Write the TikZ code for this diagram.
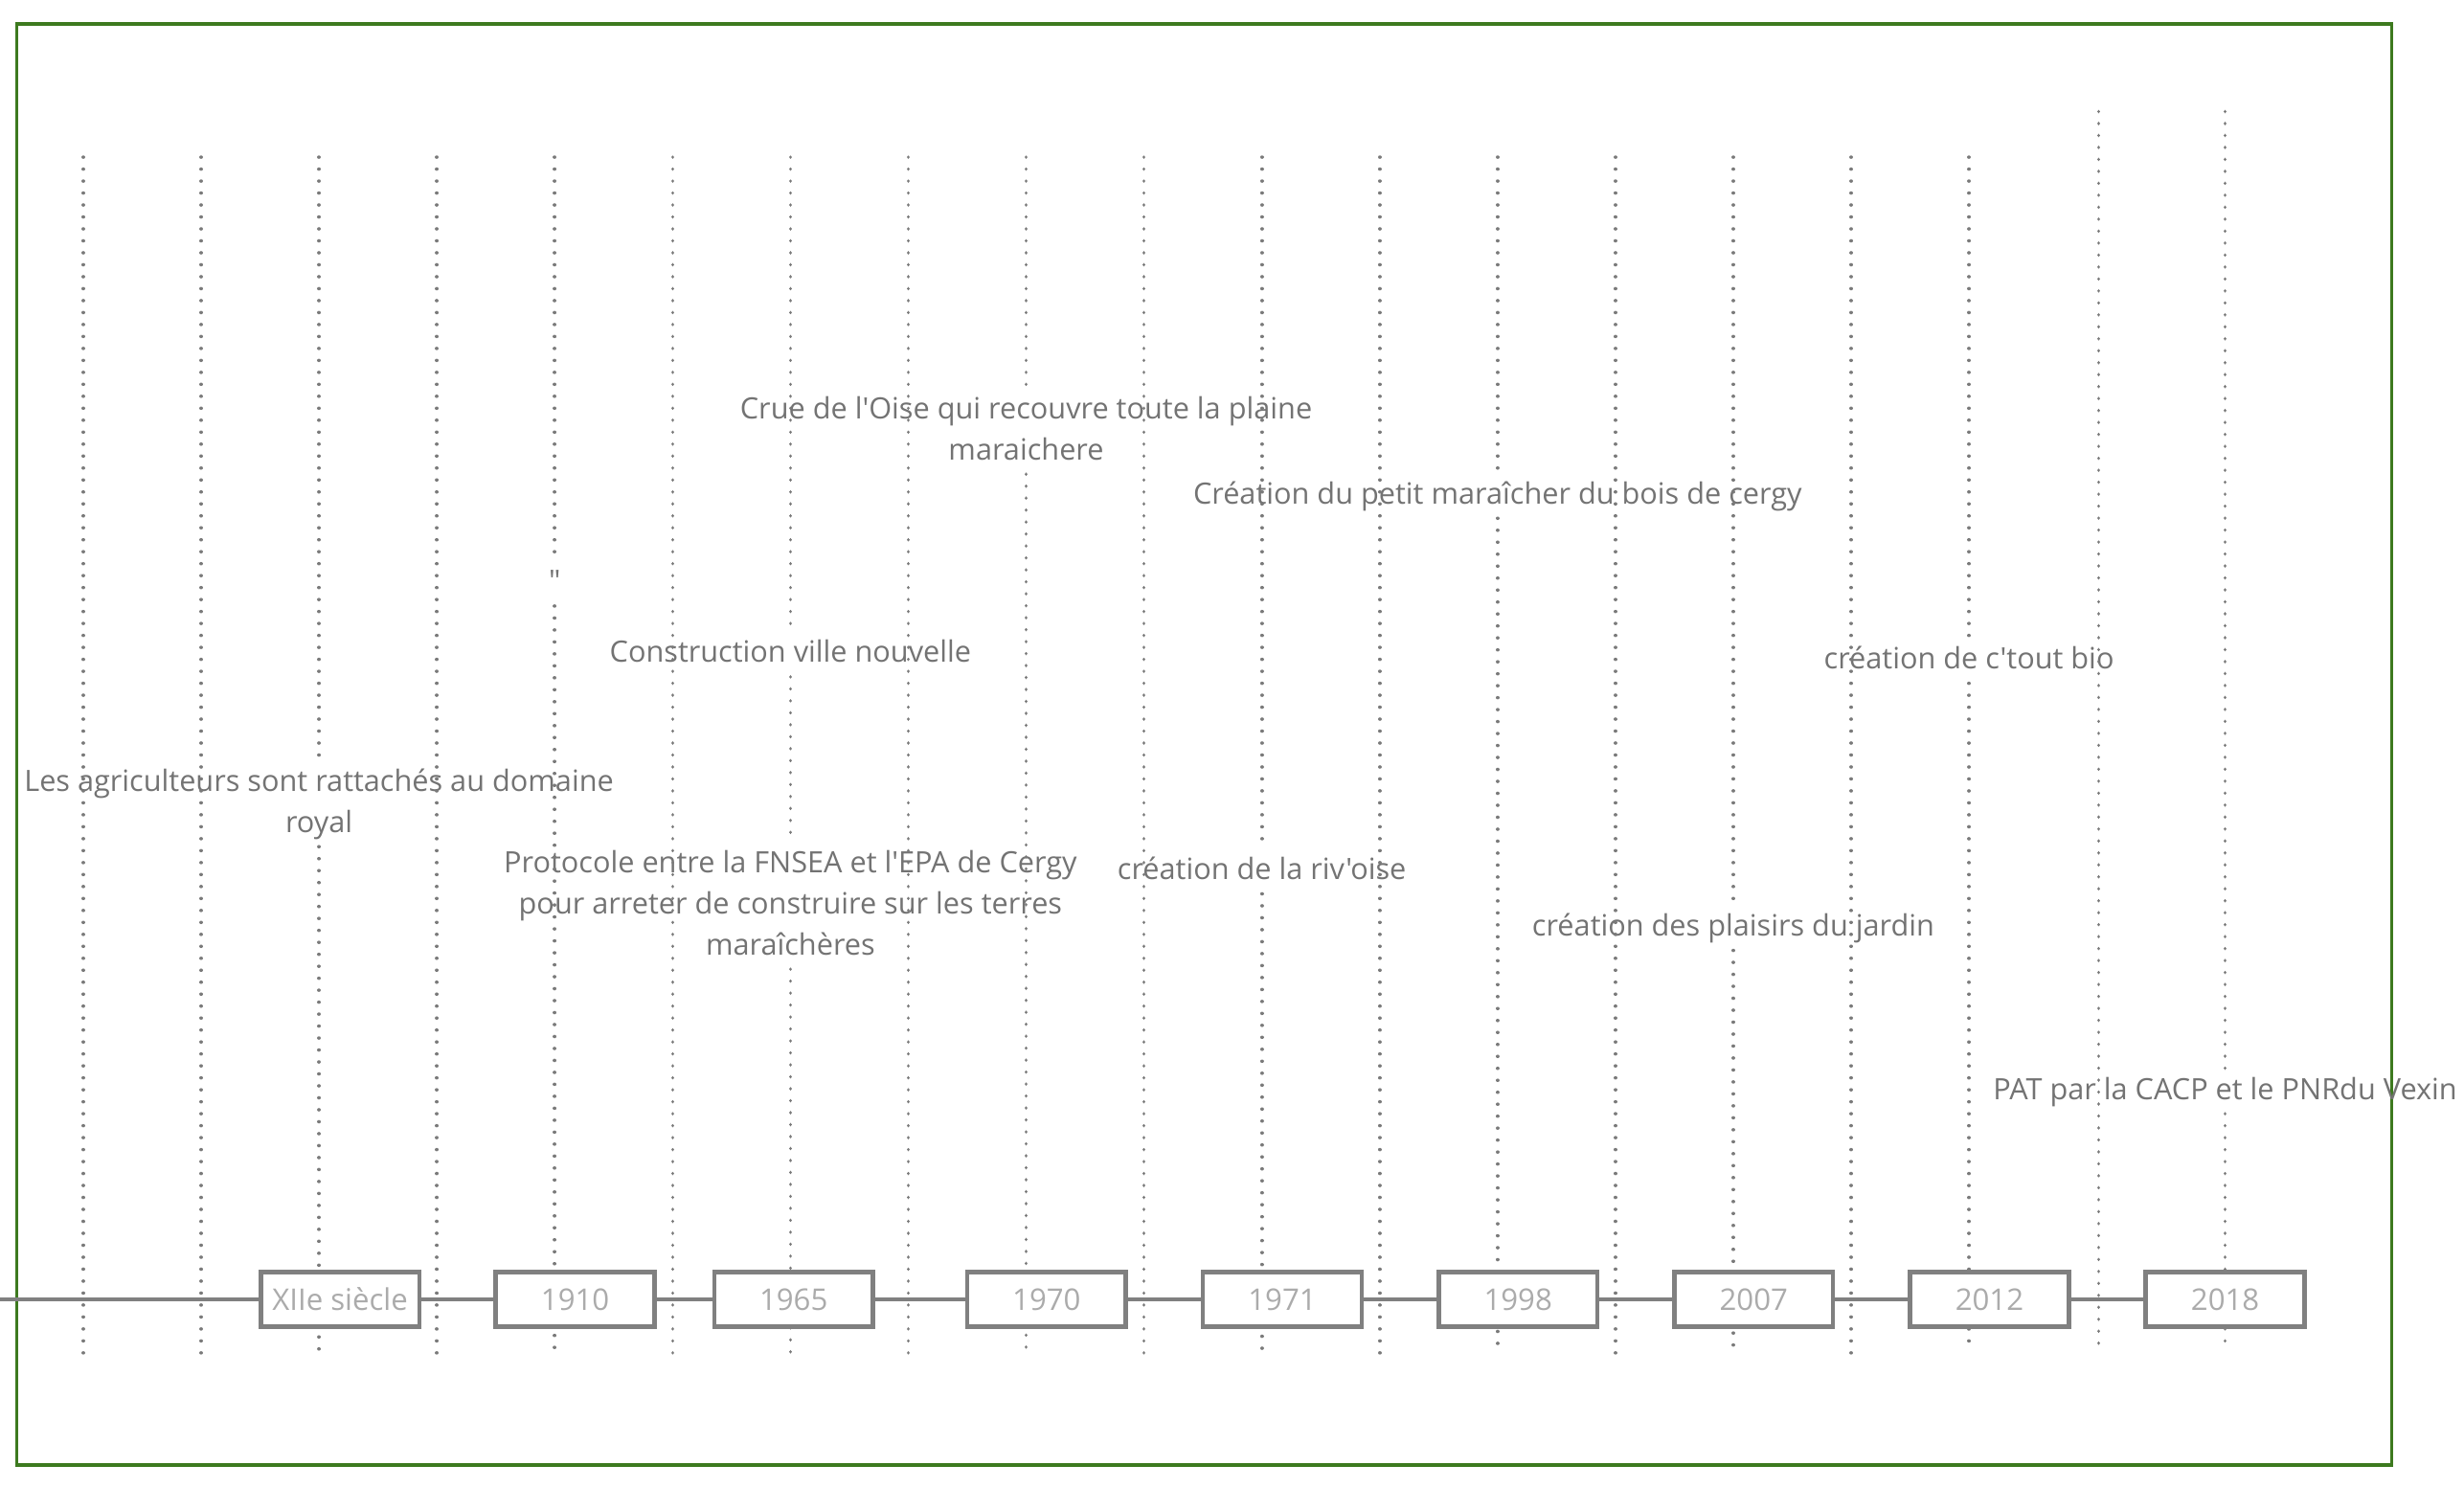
\documentclass[tikz,border=0pt]{standalone}
\usepackage{fontspec}
\setmainfont{Open Sans}[Ligatures=TeXOff]
\definecolor{framegreen}{HTML}{3D7A1F}
\definecolor{labgray}{HTML}{737373}
\definecolor{yeargray}{HTML}{ABABAB}
\definecolor{boxgray}{HTML}{808080}
\definecolor{dotgray}{HTML}{7A7A7A}
\newcommand\labstrut{\rule[-5pt]{0pt}{19pt}}
\newcommand\labfont{\fontsize{18.7pt}{26pt}\selectfont}
\newcommand\yearfont{\fontsize{19pt}{23pt}\selectfont}
\begin{document}
\begin{tikzpicture}[x=1pt,y=-1pt,
  lab/.style={font=\labfont, text=labgray, align=center, inner xsep=0pt, inner ysep=4pt},
  dotline/.style={draw=dotgray, line width=2.2pt, line cap=round, dash pattern=on 0.01pt off 7.6pt},
  yearbox/.style={draw=boxgray, line width=2.8pt, fill=white, text=yeargray, font=\yearfont,
    minimum width=101pt, minimum height=35pt, inner sep=0pt},
  timeline/.style={draw=boxgray, line width=2.8pt},
  framebox/.style={draw=framegreen, line width=2pt}]
\useasboundingbox (0,0) rectangle (1568,947);
% frame
\draw[framebox] (10.5,15.2) rectangle (1521.8,932.3);
% labels
\node[lab] (l1) at (203,512) {\labstrut Les agriculteurs sont rattachés au domaine\\\labstrut royal};
\node[lab] (l2) at (353,372) {\labstrut "};
\node[lab] (l3) at (503,417) {\labstrut Construction ville nouvelle};
\node[lab] (l4) at (503,577) {\labstrut Protocole entre la FNSEA et l'EPA de Cergy\\\labstrut pour arreter de construire sur les terres\\\labstrut maraîchères};
\node[lab] (l5) at (653,275) {\labstrut Crue de l'Oise qui recouvre toute la plaine\\\labstrut maraichere};
\node[lab] (l6) at (953,316) {\labstrut Création du petit maraîcher du bois de cergy};
\node[lab] (l7) at (803,555) {\labstrut création de la riv'oise};
\node[lab] (l8) at (1103,591) {\labstrut création des plaisirs du jardin};
\node[lab] (l9) at (1253,421) {\labstrut création de c'tout bio};
\node[lab] (l10) at (1416,695) {\labstrut PAT par la CACP et le PNRdu Vexin};
% column end points
\foreach \k in {0,...,16}{
  \pgfmathsetmacro\cx{53+75*\k}
  \coordinate (t\k) at (\cx,100);
  \coordinate (b\k) at (\cx,861);
}
\coordinate (t17) at (1335.5,71); \coordinate (b17) at (1335.5,861);
\coordinate (t18) at (1416,71);   \coordinate (b18) at (1416,861);
% dotted lines
\foreach \k in {0,1,3,5,7,9,11,13,15,17}{\draw[dotline] (t\k) -- (b\k);}
\draw[dotline] (t2) -- (l1.north); \draw[dotline] (l1.south) -- (b2);
\draw[dotline] (t4) -- (l2.north); \draw[dotline] (l2.south) -- (b4);
\draw[dotline] (t6) -- (l3.north); \draw[dotline] (l3.south) -- (l4.north); \draw[dotline] (l4.south) -- (b6);
\draw[dotline] (t8) -- (l5.north); \draw[dotline] (l5.south) -- (b8);
\draw[dotline] (t10) -- (l7.north); \draw[dotline] (l7.south) -- (b10);
\draw[dotline] (t12) -- (l6.north); \draw[dotline] (l6.south) -- (b12);
\draw[dotline] (t14) -- (l8.north); \draw[dotline] (l8.south) -- (b14);
\draw[dotline] (t16) -- (l9.north); \draw[dotline] (l9.south) -- (b16);
\draw[dotline] (t18) -- (l10.north); \draw[dotline] (l10.south) -- (b18);
% year boxes
\node[yearbox] (y1) at (216.4,827) {XIIe siècle};
\node[yearbox] (y2) at (366,827) {1910};
\node[yearbox] (y3) at (505,827) {1965};
\node[yearbox] (y4) at (666,827) {1970};
\node[yearbox] (y5) at (816,827) {1971};
\node[yearbox] (y6) at (966,827) {1998};
\node[yearbox] (y7) at (1116,827) {2007};
\node[yearbox] (y8) at (1266,827) {2012};
\node[yearbox] (y9) at (1416,827) {2018};
% timeline
\coordinate (tl0) at (0,827);
\draw[timeline] (tl0) -- (y1) -- (y2) -- (y3) -- (y4) -- (y5) -- (y6) -- (y7) -- (y8) -- (y9);
\end{tikzpicture}
\end{document}
